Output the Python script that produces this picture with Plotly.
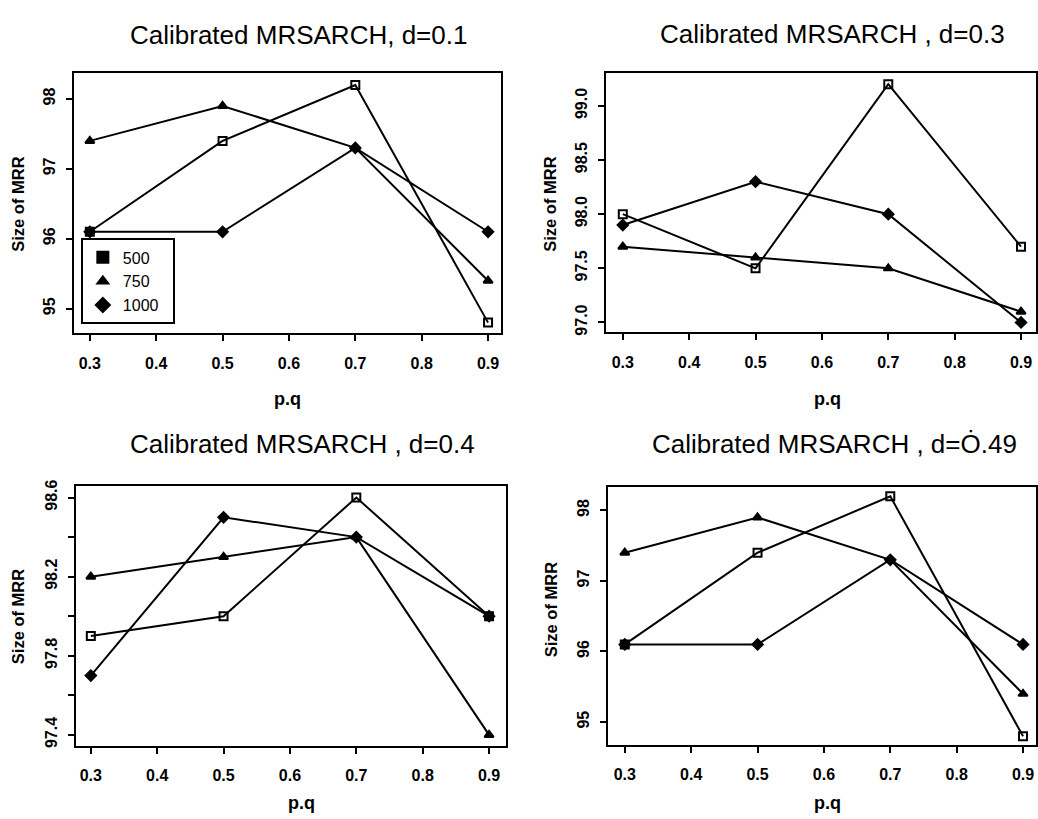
import plotly.graph_objects as go

W, H = 1038, 819

pq = [0.3, 0.5, 0.7, 0.9]
series_names = ["500", "750", "1000"]

# panel data: d=0.1, d=0.3, d=0.4, d=0.49
d01_500 = [96.1, 97.4, 98.2, 94.8]
d01_750 = [97.4, 97.9, 97.3, 95.4]
d01_1000 = [96.1, 96.1, 97.3, 96.1]

d03_500 = [98.0, 97.5, 99.2, 97.7]
d03_750 = [97.7, 97.6, 97.5, 97.1]
d03_1000 = [97.9, 98.3, 98.0, 97.0]

d04_500 = [97.9, 98.0, 98.6, 98.0]
d04_750 = [98.2, 98.3, 98.4, 97.4]
d04_1000 = [97.7, 98.5, 98.4, 98.0]

d049_500 = [96.1, 97.4, 98.2, 94.8]
d049_750 = [97.4, 97.9, 97.3, 95.4]
d049_1000 = [96.1, 96.1, 97.3, 96.1]

titles = ["Calibrated MRSARCH, d=0.1", "Calibrated MRSARCH , d=0.3",
          "Calibrated MRSARCH , d=0.4", "Calibrated MRSARCH , d=\u022e.49"]

x_ticks = [0.3, 0.4, 0.5, 0.6, 0.7, 0.8, 0.9]
x_ticklabels = ["0.3", "0.4", "0.5", "0.6", "0.7", "0.8", "0.9"]
y_ticks_1 = [95, 96, 97, 98]
y_ticklabels_1 = ["95", "96", "97", "98"]
y_ticks_2 = [97.0, 97.5, 98.0, 98.5, 99.0]
y_ticklabels_2 = ["97.0", "97.5", "98.0", "98.5", "99.0"]
y_ticks_3 = [97.4, 97.6, 97.8, 98.0, 98.2, 98.4, 98.6]
y_ticklabels_3 = ["97.4", "", "97.8", "", "98.2", "", "98.6"]
y_ticks_4 = [95, 96, 97, 98]
y_ticklabels_4 = ["95", "96", "97", "98"]

panels = [
    dict(data=[d01_500, d01_750, d01_1000], box=(74, 502, 68, 331),
         xpx=(90, 489), ypx=((98, 94), (95, 306)),
         yt=y_ticks_1, ytl=y_ticklabels_1,
         title=(299, 29), ylab=(18, 200), xlab=(288, 397)),
    dict(data=[d03_500, d03_750, d03_1000], box=(607, 1038, 68, 330),
         xpx=(624, 1023), ypx=((99.0, 101), (97.0, 320)),
         yt=y_ticks_2, ytl=y_ticklabels_2,
         title=(834, 28), ylab=(551, 200), xlab=(829, 397)),
    dict(data=[d04_500, d04_750, d04_1000], box=(76, 507, 485, 748),
         xpx=(91, 490), ypx=((98.6, 497), (97.4, 737)),
         yt=y_ticks_3, ytl=y_ticklabels_3,
         title=(303, 443), ylab=(18, 617), xlab=(302, 806)),
    dict(data=[d049_500, d049_750, d049_1000], box=(609, 1038, 486, 747),
         xpx=(626, 1025), ypx=((98, 510), (95, 724)),
         yt=y_ticks_4, ytl=y_ticklabels_4,
         title=(836, 443), ylab=(552, 610), xlab=(829, 806)),
]

symbols = ["square-open", "triangle-up", "diamond"]
legend_symbols = ["square", "triangle-up", "diamond"]

FONT = "Liberation Sans, Arial, sans-serif"
fig = go.Figure()
layout = dict(width=W, height=H, margin=dict(l=0, r=0, t=0, b=0),
              paper_bgcolor="white", plot_bgcolor="white",
              font=dict(family=FONT, color="black"),
              showlegend=True)
annotations = []

for i, p in enumerate(panels):
    n = "" if i == 0 else str(i + 1)
    xa, ya = "x" + n, "y" + n
    L, R, T, B = p["box"]
    x0px, x1px = p["xpx"]
    ppu = (x1px - x0px) / 0.6
    xr = [0.3 - (x0px - L) / ppu, 0.9 + (R - x1px) / ppu]
    (v1, py1), (v2, py2) = p["ypx"]
    ppuy = (py2 - py1) / (v1 - v2)
    yr = [v2 - (B - py2) / ppuy, v1 + (py1 - T) / ppuy]
    axcommon = dict(showline=True, linecolor="black", linewidth=2, mirror=True,
                    ticks="outside", ticklen=6, tickwidth=1.5, tickcolor="black",
                    showgrid=False, zeroline=False,
                    tickfont=dict(family=FONT, size=16, color="black", weight="bold"))
    layout["xaxis" + n] = dict(axcommon, domain=[L / W, min(R / W, 1.0)], range=xr,
                               anchor=ya, tickvals=x_ticks, ticktext=x_ticklabels,
                               ticklabelstandoff=8)
    layout["yaxis" + n] = dict(axcommon, domain=[1 - B / H, 1 - T / H], range=yr,
                               anchor=xa, tickvals=p["yt"], ticktext=p["ytl"],
                               tickangle=-90, ticklabelstandoff=4,
                               tickfont=dict(family=FONT, size=16, color="black", weight="bold"))
    for s, vals in enumerate(p["data"]):
        fig.add_trace(go.Scatter(
            x=pq, y=vals, xaxis=xa, yaxis=ya, mode="lines+markers",
            line=dict(color="black", width=2),
            marker=dict(symbol=symbols[s], size=8, color="black",
                        line=dict(color="black", width=2)),
            showlegend=False, name=series_names[s]))
    tx, ty = p["title"]
    annotations.append(dict(text=titles[i], x=tx / W, y=1 - ty / H, xref="paper", yref="paper",
                            showarrow=False, xanchor="center", yanchor="middle",
                            font=dict(family=FONT, size=26, color="black")))
    lx, ly = p["ylab"]
    annotations.append(dict(text="Size of MRR", x=lx / W, y=1 - ly / H, xref="paper", yref="paper",
                            showarrow=False, xanchor="center", yanchor="middle", textangle=-90,
                            font=dict(family=FONT, size=16.5, color="black", weight="bold")))
    qx, qy = p["xlab"]
    annotations.append(dict(text="p.q", x=qx / W, y=1 - qy / H, xref="paper", yref="paper",
                            showarrow=False, xanchor="center", yanchor="middle",
                            font=dict(family=FONT, size=18, color="black", weight="bold")))

# legend entries (panel 1)
legend_labels = ["500", "750", "1000\u00a0\u00a0"]
for s in range(3):
    fig.add_trace(go.Scatter(
        x=[None], y=[None], mode="markers", name=legend_labels[s],
        marker=dict(symbol=legend_symbols[s], size=13, color="black"),
        showlegend=True))

layout["legend"] = dict(x=81 / W, y=1 - 322 / H, xanchor="left", yanchor="bottom",
                        bordercolor="black", borderwidth=2, bgcolor="white",
                        itemwidth=30, tracegroupgap=0,
                        font=dict(family=FONT, size=16, color="black"))
layout["annotations"] = annotations
fig.update_layout(**layout)
fig.write_html("out.html")
